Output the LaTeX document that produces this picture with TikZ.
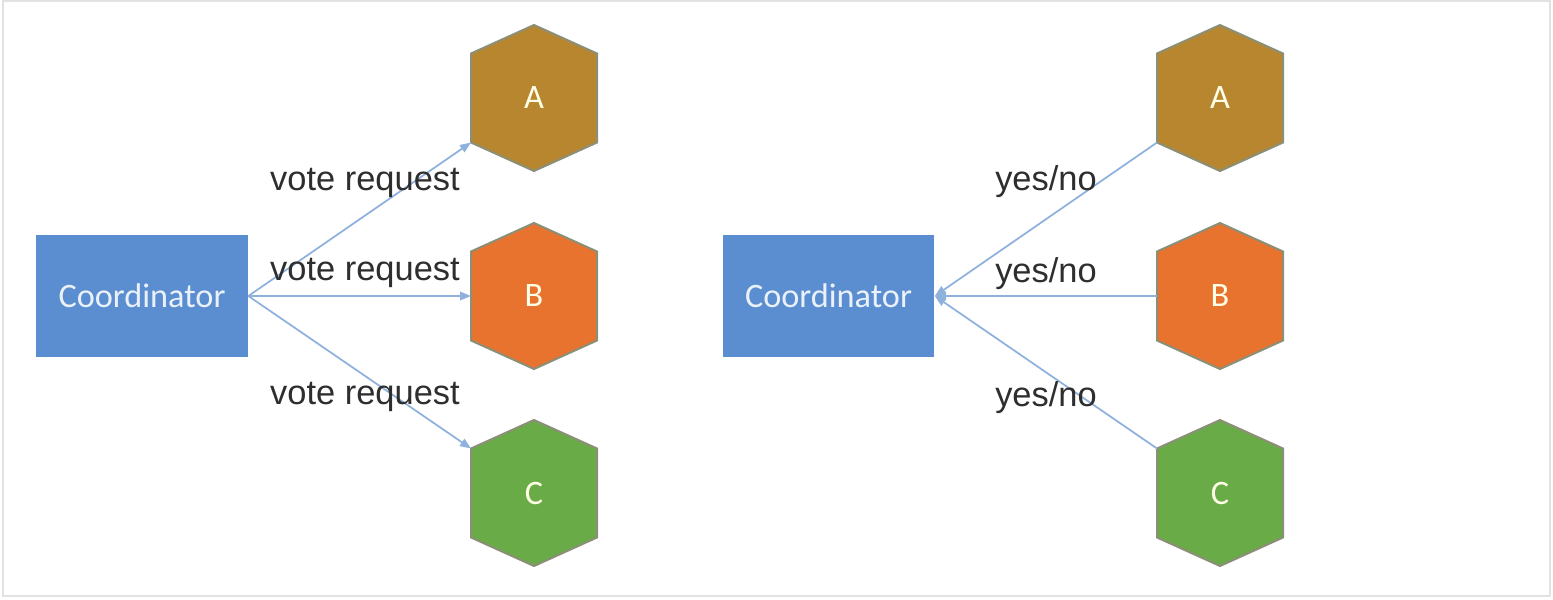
\documentclass[tikz,border=0pt]{standalone}
\usepackage{fontspec}
\setmainfont{Liberation Sans}
\newfontfamily\calibri{Carlito}
\usetikzlibrary{arrows.meta}
\definecolor{boxblue}{HTML}{5B8ED0}
\definecolor{linkblue}{HTML}{8EB1DE}
\definecolor{hexgold}{HTML}{B8862F}
\definecolor{hexorange}{HTML}{E8732F}
\definecolor{hexgreen}{HTML}{69AB47}
\definecolor{hexedge}{HTML}{8B8F78}
\definecolor{labelgray}{HTML}{2E2E2E}
\definecolor{framegray}{HTML}{E2E2E2}

\begin{document}
\begin{tikzpicture}[x=0.02cm, y=-0.02cm,
    coord/.style={fill=boxblue, minimum width=4.24cm, minimum height=2.44cm, inner sep=0pt,
        text=white!88!boxblue, font=\calibri\fontsize{19.5}{22}\selectfont},
    hexletter/.style={inner sep=0pt, text=white!90!yellow, font=\calibri\fontsize{19.5}{22}\selectfont},
    msg/.style={inner sep=0pt, text=labelgray, font=\fontsize{19.6}{22}\selectfont},
    link/.style={draw=linkblue, line width=0.035cm},
    tip/.style={-{Triangle[length=0.22cm, width=0.17cm]}}]
        \useasboundingbox (0,0) rectangle (1553,599);
        \draw[framegray, line width=0.045cm] (3,1) rectangle (1550,596);
        \foreach \side/\cx in {ask/534, reply/1220} {
            \foreach \h/\cy/\col/\dy in {A/98/hexgold/44.5, B/296/hexorange/0, C/493/hexgreen/-44.5} {
                \draw[hexedge, line width=0.04cm, fill=\col]
                    (\cx,\cy-73) -- (\cx+63,\cy-44.5) -- (\cx+63,\cy+44.5) -- (\cx,\cy+73)
                    -- (\cx-63,\cy+44.5) -- (\cx-63,\cy-44.5) -- cycle;
                \node[hexletter] (\side\h) at (\cx,\cy) {\h};
                \coordinate (\side\h-in) at (\cx-63,\cy+\dy);
            }
        }
        \node[coord] (askcoord) at (142,296) {Coordinator};
        \node[coord] (replycoord) at (828.5,296) {Coordinator};
        \foreach \h in {A,B,C} {
            \draw[link, tip] (askcoord.east) -- (ask\h-in);
            \draw[link, tip] (reply\h-in) -- (replycoord.east);
        }
        \node[msg] (askmsgA) at (365,183) {vote request};
        \node[msg] (askmsgB) at (365,273) {vote request};
        \node[msg] (askmsgC) at (365,397) {vote request};
        \node[msg] (replymsgA) at (1046,182) {yes/no};
        \node[msg] (replymsgB) at (1046,274) {yes/no};
        \node[msg] (replymsgC) at (1046,398) {yes/no};
    \end{tikzpicture}
\end{document}
